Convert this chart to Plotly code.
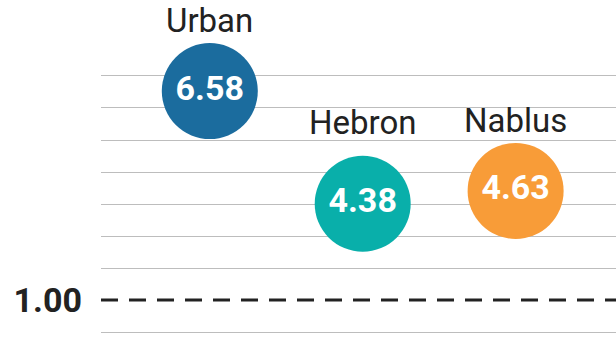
import plotly.graph_objects as go

# Regional indicator values
regions = ["Urban", "Hebron", "Nablus"]
values = [6.58, 4.38, 4.63]
reference_value = 1.00

# Styling
bubble_colors = ["#1B6C9E", "#09AFAA", "#F89C38"]
font_family = "Roboto, Arial, sans-serif"
text_dark = "#222222"
grid_color = "#BDBDBD"
label_lift = {"Urban": 0, "Hebron": 11, "Nablus": 0}

# Bubble value axis: gridlines every 0.625 units
grid_step = 0.625
y_range = [1.270, 8.359]
grid_vals = [grid_step * k for k in range(3, 12) if k != 4]

fig = go.Figure()

fig.add_trace(go.Scatter(
    x=regions,
    y=values,
    mode="markers+text",
    marker=dict(size=96, color=bubble_colors, line=dict(width=0), opacity=1),
    text=[f"{v:.2f}" for v in values],
    textposition="middle center",
    textfont=dict(family=font_family, size=34, color="white", weight="bold"),
    hoverinfo="skip",
    showlegend=False,
))

# Anchor trace for the reference scale
fig.add_trace(go.Scatter(
    x=[regions[0]], y=[reference_value], yaxis="y2",
    mode="markers", marker=dict(opacity=0),
    hoverinfo="skip", showlegend=False,
))

# Region names above each bubble
for name, v in zip(regions, values):
    fig.add_annotation(
        x=name, y=v, text=name, showarrow=False,
        yanchor="bottom", yshift=49 + label_lift[name],
        font=dict(family=font_family, size=33, color=text_dark),
    )

# Dashed reference line at 1.00
fig.add_shape(
    type="line", xref="paper", x0=0, x1=1,
    yref="y2", y0=reference_value, y1=reference_value,
    line=dict(color=text_dark, width=3, dash="17px,11px"),
)

fig.update_layout(
    width=616, height=363,
    margin=dict(l=101, r=0, t=0, b=0),
    paper_bgcolor="white", plot_bgcolor="white",
    xaxis=dict(
        type="category", range=[-0.7116, 2.6566],
        showgrid=False, zeroline=False, showline=False,
        showticklabels=False, ticks="",
    ),
    yaxis=dict(
        range=y_range, tickvals=grid_vals,
        showgrid=True, gridcolor=grid_color, gridwidth=1.4,
        zeroline=False, showline=False, showticklabels=False, ticks="",
    ),
    yaxis2=dict(
        overlaying="y", side="left", anchor="x",
        range=[0, 5.762],
        tickvals=[reference_value], ticktext=[f"{reference_value:.2f}"],
        showgrid=False, zeroline=False, showline=False, ticks="",
        ticklabelstandoff=18,
        tickfont=dict(family=font_family, size=34, color=text_dark, weight="bold"),
    ),
)

fig.write_html("out.html")
